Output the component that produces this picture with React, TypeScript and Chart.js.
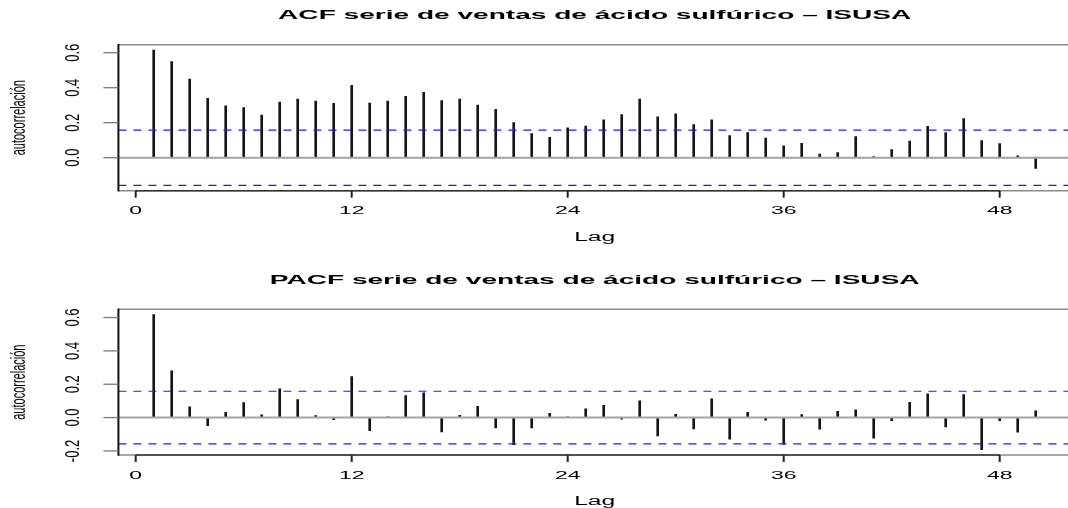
import React, { useEffect, useRef } from "react";
import { Chart, registerables } from "chart.js";

Chart.register(...registerables);

// ---------- data ----------
const lags = [
  1, 2, 3, 4, 5, 6, 7, 8, 9, 10, 11, 12, 13, 14, 15, 16, 17, 18, 19, 20, 21, 22, 23, 24, 25,
  26, 27, 28, 29, 30, 31, 32, 33, 34, 35, 36, 37, 38, 39, 40, 41, 42, 43, 44, 45, 46, 47, 48, 49, 50,
];
const acfValues = [
  0.615, 0.55, 0.45, 0.339, 0.297, 0.286, 0.244, 0.318, 0.335, 0.324, 0.31, 0.413,
  0.312, 0.324, 0.35, 0.373, 0.326, 0.335, 0.301, 0.276, 0.2, 0.137, 0.116, 0.17,
  0.181, 0.217, 0.246, 0.335, 0.234, 0.25, 0.189, 0.217, 0.126, 0.143, 0.112, 0.067,
  0.082, 0.021, 0.029, 0.12, 0.006, 0.046, 0.095, 0.179, 0.143, 0.223, 0.097, 0.08,
  0.011, -0.061,
];
const pacfValues = [
  0.617, 0.28, 0.064, -0.048, 0.032, 0.09, 0.016, 0.172, 0.108, 0.012, -0.012, 0.246,
  -0.078, 0.004, 0.132, 0.148, -0.086, 0.014, 0.068, -0.062, -0.162, -0.062, 0.026, 0.004,
  0.052, 0.074, -0.01, 0.1, -0.11, 0.02, -0.068, 0.112, -0.13, 0.032, -0.016, -0.16,
  0.018, -0.07, 0.038, 0.046, -0.124, -0.018, 0.092, 0.142, -0.056, 0.138, -0.192, -0.018,
  -0.088, 0.04,
];
const ciLimit = 0.158;
const xTicks = [0, 12, 24, 36, 48];
const acfYTicks = [0, 0.2, 0.4, 0.6];
const pacfYTicks = [-0.2, 0, 0.2, 0.4, 0.6];
const acfTitle = "ACF serie de ventas de ácido sulfúrico – ISUSA";
const pacfTitle = "PACF serie de ventas de ácido sulfúrico – ISUSA";
const xLabel = "Lag";
const yLabel = "autocorrelación";

// ---------- helpers ----------
const FONT = "'Liberation Sans', Arial, Helvetica, sans-serif";

function stretchText(
  ctx: CanvasRenderingContext2D,
  text: string,
  x: number,
  y: number,
  font: string,
  sx: number,
  vertical: boolean
) {
  ctx.save();
  ctx.font = font;
  ctx.fillStyle = "#000";
  ctx.textAlign = "center";
  ctx.textBaseline = "alphabetic";
  ctx.translate(x, y);
  if (vertical) {
    ctx.rotate(-Math.PI / 2);
    ctx.scale(1, sx);
  } else {
    ctx.scale(sx, 1);
  }
  ctx.fillText(text, 0, 0);
  ctx.restore();
}

function seg(ctx: CanvasRenderingContext2D, x0: number, y0: number, x1: number, y1: number) {
  ctx.beginPath();
  ctx.moveTo(x0, y0);
  ctx.lineTo(x1, y1);
  ctx.stroke();
}

const rPlotPlugin = {
  id: "rPlot",
  afterDraw(chart: any, _args: any, opts: any) {
    const { ctx, chartArea: ca, scales } = chart;
    const xs = scales.x;
    const ys = scales.y;
    ctx.save();
    // box
    ctx.strokeStyle = "#8a8a8a";
    ctx.lineWidth = 1.5;
    seg(ctx, ca.left, ca.top, chart.width, ca.top);
    seg(ctx, ca.left, ca.bottom, chart.width, ca.bottom);
    ctx.strokeStyle = "#111";
    ctx.lineWidth = 2;
    seg(ctx, ca.left, ca.top - 0.7, ca.left, ca.bottom + 0.7);

    // x axis
    const xt: number[] = opts.xTicks;
    const bx0 = xs.getPixelForValue(xt[0]);
    const bx1 = xs.getPixelForValue(xt[xt.length - 1]);
    ctx.strokeStyle = "#333";
    ctx.lineWidth = 1.5;
    seg(ctx, bx0, ca.bottom, bx1, ca.bottom);
    ctx.lineWidth = 2;
    ctx.strokeStyle = "#222";
    for (const t of xt) {
      const px = xs.getPixelForValue(t);
      seg(ctx, px, ca.bottom, px, ca.bottom + 7);
      stretchText(ctx, String(t), px, ca.bottom + 23.5, `10px ${FONT}`, 2.3, false);
    }
    // y axis ticks
    const yt: number[] = opts.yTicks;
    ctx.strokeStyle = "#7a7a7a";
    ctx.lineWidth = 1.3;
    for (const t of yt) {
      const py = ys.getPixelForValue(t);
      seg(ctx, ca.left - 15, py, ca.left, py);
      stretchText(ctx, t.toFixed(1), 78.5, py, `13px ${FONT}`, 1.6, true);
    }
    // labels
    const cx = (ca.left + ca.right) / 2;
    stretchText(ctx, xLabel, cx, ca.bottom + 50, `12px ${FONT}`, 2.05, false);
    stretchText(ctx, yLabel, 25, (ca.top + ca.bottom) / 2, `11px ${FONT}`, 1.8, true);

    // title, stretched so the ACF title spans ~634px
    const tFont = `bold 12px ${FONT}`;
    ctx.font = tFont;
    const m = ctx.measureText(acfTitle);
    const ink = m.actualBoundingBoxLeft + m.actualBoundingBoxRight;
    const tsx = 634 / ink;
    stretchText(ctx, opts.title, cx, ca.top - opts.titleGap, tFont, tsx, false);
    ctx.restore();
  },
};

function buildConfig(values: number[], title: string, yTicks: number[], padTop: number, padBottom: number, titleGap: number) {
  const lo = Math.min(...values, -ciLimit);
  const hi = Math.max(...values, ciLimit);
  const dy = (hi - lo) * 0.04;
  const lagMin = Math.min(...lags);
  const lagMax = Math.max(...lags);
  const dx = (lagMax - lagMin) * 0.04;
  const xMin = lagMin - dx;
  const xMax = lagMax + dx;
  return {
    type: "bar",
    data: {
      datasets: [
        {
          type: "line",
          data: [
            { x: xMin, y: ciLimit },
            { x: xMax, y: ciLimit },
          ],
          borderColor: "#1a1aff",
          borderWidth: 1.2,
          borderDash: [8, 7],
          pointRadius: 0,
          fill: false,
          order: 1,
        },
        {
          type: "line",
          data: [
            { x: xMin, y: -ciLimit },
            { x: xMax, y: -ciLimit },
          ],
          borderColor: "#1a1aff",
          borderWidth: 1.2,
          borderDash: [8, 7],
          pointRadius: 0,
          fill: false,
          order: 1,
        },
        {
          type: "line",
          data: [
            { x: xMin, y: 0 },
            { x: xMax, y: 0 },
          ],
          borderColor: "#a4a4a4",
          borderWidth: 2,
          pointRadius: 0,
          fill: false,
          order: 2,
        },
        {
          type: "bar",
          data: lags.map((l, i) => ({ x: l, y: values[i] })),
          backgroundColor: "#151515",
          borderWidth: 0,
          barThickness: 2,
          order: 3,
        },
      ],
    },
    options: {
      responsive: false,
      animation: false,
      events: [],
      layout: { padding: { left: 135.7 - 18 * (0 - xMin), right: 1090 - (135.7 + 18 * xMax), top: padTop, bottom: padBottom } },
      scales: {
        x: { type: "linear", min: xMin, max: xMax, offset: false, display: false },
        y: { type: "linear", min: lo - dy, max: hi + dy, display: false },
      },
      plugins: {
        legend: { display: false },
        tooltip: { enabled: false },
        rPlot: { title, xTicks, yTicks, titleGap },
      },
    },
    plugins: [rPlotPlugin],
  } as any;
}

function RChart(props: { values: number[]; title: string; yTicks: number[]; top: number; padTop: number; padBottom: number; titleGap: number }) {
  const ref = useRef<HTMLCanvasElement | null>(null);
  useEffect(() => {
    if (!ref.current) return;
    const chart = new Chart(
      ref.current,
      buildConfig(props.values, props.title, props.yTicks, props.padTop, props.padBottom, props.titleGap)
    );
    return () => chart.destroy();
  }, []);
  return (
    <canvas
      ref={ref}
      width={1090}
      height={254}
      style={{ position: "absolute", left: 0, top: props.top, width: 1090, height: 254 }}
    />
  );
}

export default function App() {
  return (
    <div
      style={{
        position: "absolute",
        left: 0,
        top: 0,
        width: 1068,
        height: 508,
        overflow: "hidden",
        background: "#fff",
      }}
    >
      <RChart values={acfValues} title={acfTitle} yTicks={acfYTicks} top={0} padTop={44.7} padBottom={63.3} titleGap={26} />
      <RChart values={pacfValues} title={pacfTitle} yTicks={pacfYTicks} top={254} padTop={55.3} padBottom={53} titleGap={25.3} />
    </div>
  );
}
